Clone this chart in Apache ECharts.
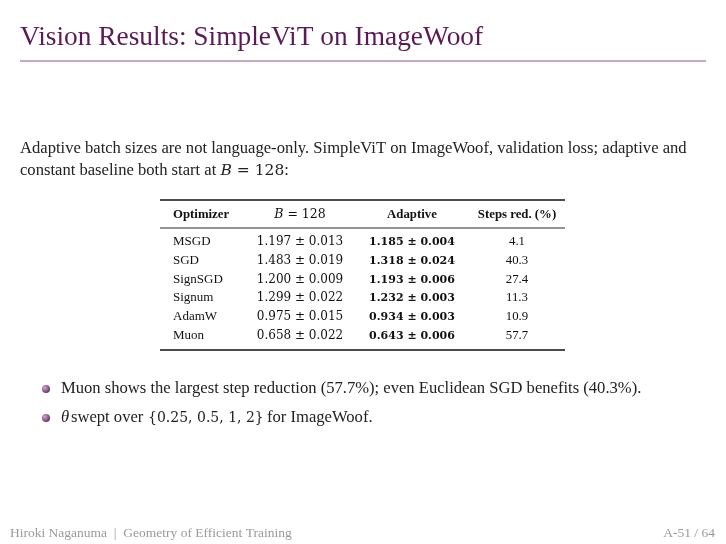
<!DOCTYPE html>
<html>
<head>
<meta charset="utf-8">
<script src="https://cdn.jsdelivr.net/npm/echarts@6/dist/echarts.min.js"></script>
<style>
  html, body { margin: 0; padding: 0; background: #fff; }
  #main { width: 726px; height: 544px; }
</style>
</head>
<body>
<div id="main"></div>
<script>
// 表格数据
var optimizers = ['MSGD', 'SGD', 'SignSGD', 'Signum', 'AdamW', 'Muon'];
var baseMean = ['1.197', '1.483', '1.200', '1.299', '0.975', '0.658'];
var baseStd = ['0.013', '0.019', '0.009', '0.022', '0.015', '0.022'];
var adaptMean = ['1.185', '1.318', '1.193', '1.232', '0.934', '0.643'];
var adaptStd = ['0.004', '0.024', '0.006', '0.003', '0.003', '0.006'];
var stepsRed = ['4.1', '40.3', '27.4', '11.3', '10.9', '57.7'];
var headers = ['Optimizer', 'B = 128', 'Adaptive', 'Steps red. (%)'];

var FONT = '"Liberation Serif", serif';
var MATH = '"DejaVu Serif", serif';
var PURPLE = '#5b1a57';
var TEXT = '#222';

var chart = echarts.init(document.getElementById('main'));

var els = [];

// 标题
els.push({
    type: 'text', x: 20, y: 38,
    style: { text: 'Vision Results: SimpleViT on ImageWoof', font: '27.4px ' + FONT, fill: PURPLE, verticalAlign: 'middle' }
});
els.push({
    type: 'line', shape: { x1: 20, y1: 61, x2: 706, y2: 61 },
    style: { stroke: '#b48aae', lineWidth: 1.5 }
});

// 段落
els.push({
    type: 'text', x: 20, y: 149,
    style: {
        text: 'Adaptive batch sizes are not language-only. SimpleViT on ImageWoof, validation loss; adaptive and',
        font: '16.6px ' + FONT, fill: TEXT, verticalAlign: 'middle'
    }
});
els.push({
    type: 'text', x: 20, y: 171,
    style: {
        text: '{n|constant baseline both start at }{i|B}{m| = 128}{n|:}',
        verticalAlign: 'middle',
        rich: {
            n: { font: '16.6px ' + FONT, fill: TEXT },
            i: { font: 'italic 15.5px ' + MATH, fill: TEXT },
            m: { font: '15.5px ' + MATH, fill: TEXT }
        }
    }
});

// 表格
var tx1 = 160, tx2 = 565;
var colX = [173, 300, 412, 517];
els.push({ type: 'line', shape: { x1: tx1, y1: 200, x2: tx2, y2: 200 }, style: { stroke: '#111', lineWidth: 1.6 } });
els.push({ type: 'line', shape: { x1: tx1, y1: 228, x2: tx2, y2: 228 }, style: { stroke: '#111', lineWidth: 0.9 } });
els.push({ type: 'line', shape: { x1: tx1, y1: 350, x2: tx2, y2: 350 }, style: { stroke: '#111', lineWidth: 1.6 } });

var headY = 215;
els.push({ type: 'text', x: colX[0], y: headY,
    style: { text: headers[0], font: 'bold 12.8px ' + FONT, fill: '#111', verticalAlign: 'middle' } });
els.push({ type: 'text', x: colX[1], y: headY,
    style: { text: '{i|B}{n| = 128}', align: 'center', verticalAlign: 'middle',
        rich: { i: { font: 'italic 12.5px ' + MATH, fill: '#111' }, n: { font: '12.5px ' + MATH, fill: '#111' } } } });
els.push({ type: 'text', x: colX[2], y: headY,
    style: { text: headers[2], font: 'bold 12.8px ' + FONT, fill: '#111', align: 'center', verticalAlign: 'middle' } });
els.push({ type: 'text', x: colX[3], y: headY,
    style: { text: headers[3], font: 'bold 12.8px ' + FONT, fill: '#111', align: 'center', verticalAlign: 'middle' } });

var rowY = [242, 261, 280, 298, 317, 336];
for (var r = 0; r < optimizers.length; r++) {
    var y = rowY[r];
    els.push({ type: 'text', x: colX[0], y: y,
        style: { text: optimizers[r], font: '13px ' + FONT, fill: '#111', verticalAlign: 'middle' } });
    els.push({ type: 'text', x: colX[1], y: y,
        style: { text: baseMean[r] + ' ± ' + baseStd[r], font: '12px ' + MATH, fill: '#111', align: 'center', verticalAlign: 'middle' } });
    els.push({ type: 'text', x: colX[2], y: y,
        style: { text: adaptMean[r] + ' ± ' + adaptStd[r], font: 'bold 11px ' + MATH, fill: '#111', align: 'center', verticalAlign: 'middle' } });
    els.push({ type: 'text', x: colX[3], y: y,
        style: { text: stepsRed[r], font: '12.8px ' + FONT, fill: '#111', align: 'center', verticalAlign: 'middle' } });
}

// 要点
var bulletY = [389, 418];
for (var b = 0; b < bulletY.length; b++) {
    els.push({ type: 'circle', shape: { cx: 46, cy: bulletY[b], r: 4 },
        style: { fill: new echarts.graphic.RadialGradient(0.35, 0.35, 0.8, [
            { offset: 0, color: '#d0aacb' }, { offset: 1, color: '#5b1a57' }]) } });
}
els.push({ type: 'text', x: 61, y: bulletY[0],
    style: { text: 'Muon shows the largest step reduction (57.7%); even Euclidean SGD benefits (40.3%).',
        font: '16.6px ' + FONT, fill: TEXT, verticalAlign: 'middle' } });
els.push({ type: 'text', x: 61, y: bulletY[1],
    style: { text: 'θ', font: 'italic 16.6px ' + FONT, fill: TEXT, verticalAlign: 'middle' } });
els.push({ type: 'text', x: 71, y: bulletY[1],
    style: { text: 'swept over', font: '16.6px ' + FONT, fill: TEXT, verticalAlign: 'middle' } });
els.push({ type: 'text', x: 148, y: bulletY[1],
    style: { text: '{0.25, 0.5, 1, 2}', font: '14px ' + MATH, fill: TEXT, verticalAlign: 'middle' } });
els.push({ type: 'text', x: 267, y: bulletY[1],
    style: { text: 'for ImageWoof.', font: '16.6px ' + FONT, fill: TEXT, verticalAlign: 'middle' } });

// 页脚
els.push({ type: 'text', x: 10, y: 533,
    style: { text: 'Hiroki Naganuma  |  Geometry of Efficient Training', font: '13.5px ' + FONT, fill: '#999', verticalAlign: 'middle' } });
els.push({ type: 'text', x: 715, y: 533,
    style: { text: 'A-51 / 64', font: '13.5px ' + FONT, fill: '#999', align: 'right', verticalAlign: 'middle' } });

var option = {
    backgroundColor: '#fff',
    graphic: { elements: els }
};

chart.setOption(option);

window.addEventListener('resize', function () {
    chart.resize();
});
</script>
</body>
</html>
